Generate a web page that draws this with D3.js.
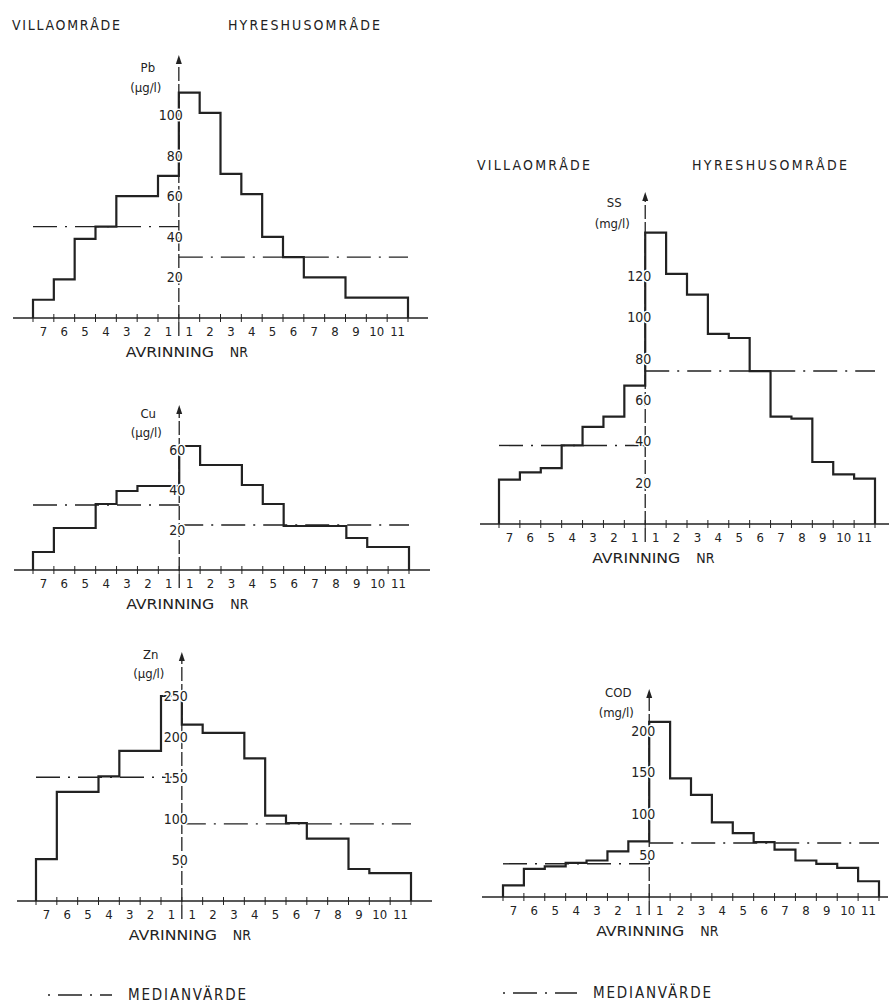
<!DOCTYPE html>
<html>
<head>
<meta charset="utf-8">
<script src="https://cdn.jsdelivr.net/npm/d3@7"></script>
<style>
  body { margin: 0; background: #fff; }
  text { font-family: 'DejaVu Sans Condensed', 'DejaVu Sans', sans-serif; fill: #222; }
</style>
</head>
<body>
<div id="chart"></div>
<script>
// Runoff numbers (avrinning nr) for the two areas
var villaNr = [1, 2, 3, 4, 5, 6, 7];
var hyresNr = [1, 2, 3, 4, 5, 6, 7, 8, 9, 10, 11];

// Values per runoff, villa listed from runoff 1 to 7, hyres from 1 to 11
var pbVilla = [70, 60, 60, 45, 39, 19, 9];
var pbHyres = [111, 101, 71, 61, 40, 30, 20, 20, 10, 10, 10];
var pbMedian = [45, 30];
var pbTicks = [20, 40, 60, 80, 100];

var cuVilla = [42, 42, 39.5, 33, 21, 21, 9];
var cuHyres = [62, 52.5, 52.5, 42.5, 33, 22, 22, 22, 16, 11.5, 11.5];
var cuMedian = [32.5, 22.5];
var cuTicks = [20, 40, 60];

var znVilla = [250, 183, 183, 152, 133, 133, 51];
var znHyres = [215, 205, 205, 174, 104, 95, 76, 76, 39, 34, 34];
var znMedian = [151, 94];
var znTicks = [50, 100, 150, 200, 250];

var ssVilla = [67, 52, 47, 38, 27, 25, 21.5];
var ssHyres = [141, 121, 111, 92, 90, 74, 52, 51, 30, 24, 22];
var ssMedian = [38, 74];
var ssTicks = [20, 40, 60, 80, 100, 120];

var codVilla = [67, 55, 44, 41, 37, 34, 14];
var codHyres = [211, 143, 123, 90, 77, 66, 57, 44, 40, 35, 19];
var codMedian = [40, 65];
var codTicks = [50, 100, 150, 200];

var W = 889, H = 1004;
var ink = '#222';

var svg = d3.select('#chart').append('svg')
  .attr('width', W)
  .attr('height', H);

// Panel layout (pixel positions only)
var panels = [
  { name: 'Pb', unit: '(µg/l)', villa: pbVilla, hyres: pbHyres, median: pbMedian, ticks: pbTicks,
    x0: 33, x1: 408, lineL: 13, lineR: 428, base: 318, yMax: 100, yMaxPx: 115, tip: 55,
    nameY: 67, unitY: 87, labelDx: 4 },
  { name: 'Cu', unit: '(µg/l)', villa: cuVilla, hyres: cuHyres, median: cuMedian, ticks: cuTicks,
    x0: 33, x1: 409, lineL: 14, lineR: 430, base: 570, yMax: 60, yMaxPx: 450, tip: 405,
    nameY: 413, unitY: 432, labelDx: 6 },
  { name: 'Zn', unit: '(µg/l)', villa: znVilla, hyres: znHyres, median: znMedian, ticks: znTicks,
    x0: 36, x1: 411, lineL: 17, lineR: 432, base: 901, yMax: 250, yMaxPx: 696, tip: 652,
    nameY: 654, unitY: 673, labelDx: 6 },
  { name: 'SS', unit: '(mg/l)', villa: ssVilla, hyres: ssHyres, median: ssMedian, ticks: ssTicks,
    x0: 499, x1: 875, lineL: 480, lineR: 889, base: 524, yMax: 120, yMaxPx: 276, tip: 192,
    nameY: 202, unitY: 223, labelDx: 6 },
  { name: 'COD', unit: '(mg/l)', villa: codVilla, hyres: codHyres, median: codMedian, ticks: codTicks,
    x0: 503, x1: 879, lineL: 482, lineR: 888, base: 897, yMax: 200, yMaxPx: 731, tip: 689,
    nameY: 692, unitY: 712, labelDx: 6 }
];

function drawPanel(p) {
  var keys = villaNr.slice().reverse().map(function (n) { return 'v' + n; })
    .concat(hyresNr.map(function (n) { return 'h' + n; }));
  var values = p.villa.slice().reverse().concat(p.hyres);

  var x = d3.scaleBand().domain(keys).range([p.x0, p.x1]);
  var y = d3.scaleLinear().domain([0, p.yMax]).range([p.base, p.yMaxPx]);
  var ax = x('h1');

  var g = svg.append('g');

  // horizontal axis line
  g.append('line')
    .attr('x1', p.lineL).attr('x2', p.lineR)
    .attr('y1', y(0)).attr('y2', y(0))
    .attr('stroke', ink).attr('stroke-width', 1.6);

  // small marks at the band boundaries
  var bounds = keys.map(function (k) { return x(k); }).concat([p.x1]);
  g.selectAll('.bt')
    .data(bounds)
    .enter().append('line')
    .attr('class', 'bt')
    .attr('x1', function (d) { return d; }).attr('x2', function (d) { return d; })
    .attr('y1', y(0) - 4).attr('y2', y(0) + 4)
    .attr('stroke', ink).attr('stroke-width', 1);

  // stepped line of the runoff values
  var pts = [{ x: p.x0, v: 0 }];
  keys.forEach(function (k, i) { pts.push({ x: x(k), v: values[i] }); });
  pts.push({ x: p.x1, v: 0 });

  var step = d3.line()
    .x(function (d) { return d.x; })
    .y(function (d) { return y(d.v); })
    .curve(d3.curveStepAfter);

  g.append('path')
    .datum(pts)
    .attr('d', step)
    .attr('fill', 'none')
    .attr('stroke', ink)
    .attr('stroke-width', 2.2);

  // median lines (dash-dot)
  var med = [
    { a: p.x0, b: ax, v: p.median[0] },
    { a: ax, b: p.x1, v: p.median[1] }
  ];
  g.selectAll('.med')
    .data(med)
    .enter().append('line')
    .attr('class', 'med')
    .attr('x1', function (d) { return d.a; }).attr('x2', function (d) { return d.b; })
    .attr('y1', function (d) { return y(d.v); }).attr('y2', function (d) { return y(d.v); })
    .attr('stroke', ink).attr('stroke-width', 1.4)
    .attr('stroke-dasharray', '24,8,2,8');

  // vertical axis with arrow
  g.append('line')
    .attr('x1', ax).attr('x2', ax)
    .attr('y1', y(0) + 18).attr('y2', p.tip + 3)
    .attr('stroke', ink).attr('stroke-width', 1.3)
    .attr('stroke-dasharray', '14,3');

  g.append('path')
    .attr('d', 'M' + (ax - 3) + ',' + (p.tip + 9) + 'L' + ax + ',' + p.tip + 'L' + (ax + 3) + ',' + (p.tip + 9) + 'Z')
    .attr('fill', ink);

  var yAxis = d3.axisLeft(y)
    .tickValues(p.ticks)
    .tickSize(0)
    .tickPadding(-p.labelDx);

  g.append('g')
    .attr('transform', 'translate(' + ax + ',0)')
    .call(yAxis)
    .call(function (s) {
      s.select('.domain').remove();
      s.selectAll('text')
        .attr('font-size', 14)
        .attr('stroke', '#fff')
        .attr('stroke-width', 3)
        .attr('paint-order', 'stroke');
    });

  // quantity and unit
  g.append('text')
    .attr('x', ax - 31).attr('y', p.nameY).attr('dy', '0.35em')
    .attr('text-anchor', 'middle').attr('font-size', 13)
    .text(p.name);
  g.append('text')
    .attr('x', ax - 33).attr('y', p.unitY).attr('dy', '0.35em')
    .attr('text-anchor', 'middle').attr('font-size', 13)
    .text(p.unit);

  // runoff numbers under the axis
  var xAxis = d3.axisBottom(x)
    .tickSize(0)
    .tickPadding(9)
    .tickFormat(function (k) { return k.slice(1); });

  g.append('g')
    .attr('transform', 'translate(0,' + y(0) + ')')
    .call(xAxis)
    .call(function (s) {
      s.select('.domain').remove();
      s.selectAll('text').attr('font-size', 13);
    });

  g.append('text')
    .attr('x', ax - 53).attr('y', y(0) + 34).attr('dy', '0.35em')
    .attr('font-size', 14).attr('textLength', 88).attr('lengthAdjust', 'spacingAndGlyphs')
    .text('AVRINNING');
  g.append('text')
    .attr('x', ax + 51).attr('y', y(0) + 34).attr('dy', '0.35em')
    .attr('font-size', 14)
    .text('NR');
}

panels.forEach(drawPanel);

// area headings
var heads = [
  { x: 12, y: 25, t: 'VILLAOMRÅDE', w: 108 },
  { x: 228, y: 25, t: 'HYRESHUSOMRÅDE', w: 152 },
  { x: 477, y: 165, t: 'VILLAOMRÅDE', w: 113 },
  { x: 692, y: 165, t: 'HYRESHUSOMRÅDE', w: 155 }
];
svg.selectAll('.head')
  .data(heads)
  .enter().append('text')
  .attr('class', 'head')
  .attr('x', function (d) { return d.x; })
  .attr('y', function (d) { return d.y; })
  .attr('dy', '0.35em')
  .attr('font-size', 14)
  .attr('textLength', function (d) { return d.w; })
  .attr('lengthAdjust', 'spacing')
  .text(function (d) { return d.t; });

// legends
var legends = [
  { a: 48, b: 112, y: 995, tx: 128 },
  { a: 503, b: 577, y: 993, tx: 593 }
];
var lg = svg.selectAll('.legend')
  .data(legends)
  .enter().append('g')
  .attr('class', 'legend');

lg.append('line')
  .attr('x1', function (d) { return d.a; }).attr('x2', function (d) { return d.b; })
  .attr('y1', function (d) { return d.y; }).attr('y2', function (d) { return d.y; })
  .attr('stroke', ink).attr('stroke-width', 1.4)
  .attr('stroke-dasharray', '2,8,24,8');

lg.append('text')
  .attr('x', function (d) { return d.tx; })
  .attr('y', function (d) { return d.y; })
  .attr('dy', '0.35em')
  .attr('font-size', 15)
  .attr('textLength', 118)
  .attr('lengthAdjust', 'spacing')
  .text('MEDIANVÄRDE');
</script>
</body>
</html>
